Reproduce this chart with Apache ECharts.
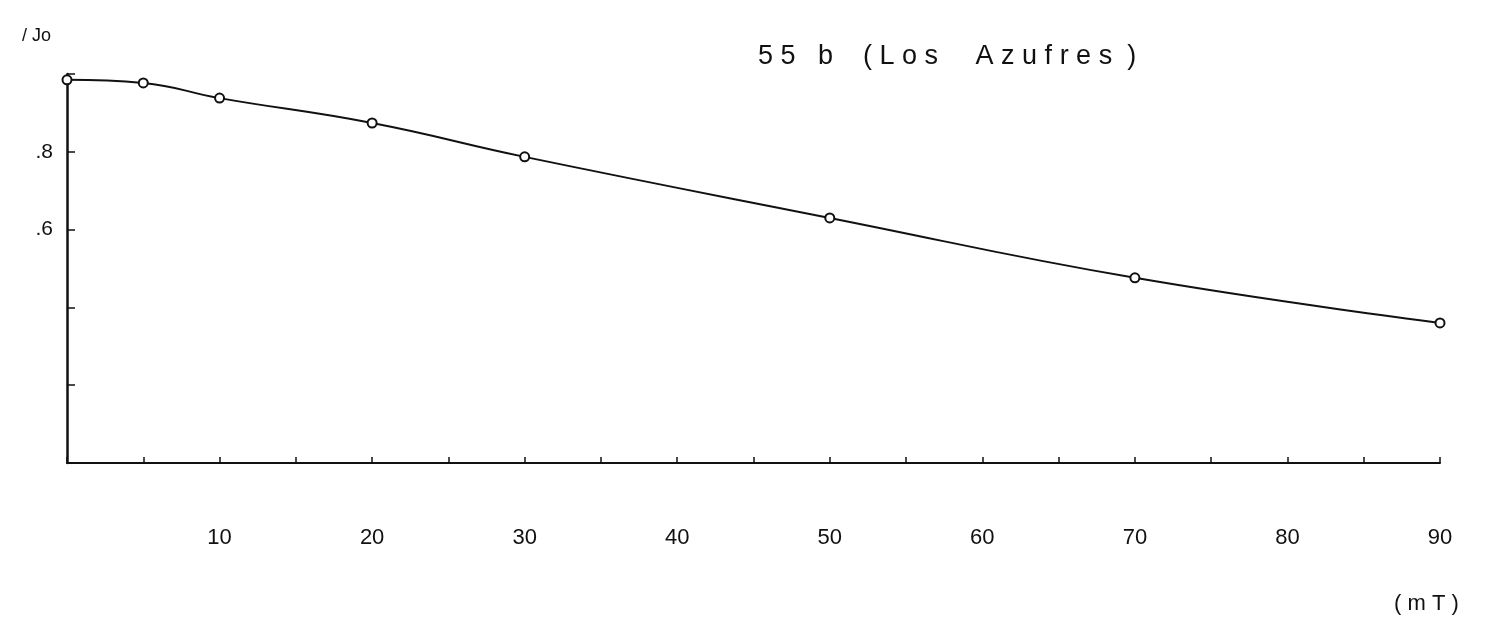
<!DOCTYPE html>
<html>
<head>
<meta charset="utf-8">
<title>55 b (Los Azufres)</title>
<script src="https://cdn.jsdelivr.net/npm/echarts@6/dist/echarts.min.js"></script>
<style>
  html, body { margin: 0; padding: 0; background: #fff; }
  #chart { width: 1486px; height: 634px; }
</style>
</head>
<body>
<div id="chart"></div>
<script>
// demagnetisation field (mT) and remaining intensity J/Jo
const fieldValues = [0, 5, 10, 20, 30, 50, 70, 90];
const intensityValues = [0.985, 0.977, 0.938, 0.874, 0.787, 0.63, 0.476, 0.36];
const xTickLabels = [10, 20, 30, 40, 50, 60, 70, 80, 90];
const yTickLabels = { 0.8: '.8', 0.6: '.6' };

const chart = echarts.init(document.getElementById('chart'));
const font = 'Liberation Sans, Arial, sans-serif';

chart.setOption({
  animation: false,
  backgroundColor: '#ffffff',
  grid: { left: 67, right: 46, top: 74, bottom: 171 },
  title: {
    text: '5 5   b    ( L o s     A z u f r e s  )',
    left: 758,
    top: 43,
    padding: 0,
    textStyle: { fontFamily: font, fontSize: 27, fontWeight: 'normal', color: '#111' }
  },
  graphic: [
    {
      type: 'text',
      left: 22,
      top: 27,
      style: { text: '/ Jo', font: '18px ' + font, fill: '#111' }
    },
    {
      type: 'text',
      left: 1394,
      top: 593,
      style: { text: '( m T )', font: '22px ' + font, fill: '#111' }
    }
  ],
  xAxis: {
    type: 'value',
    min: 0,
    max: 90,
    interval: 5,
    axisLine: { lineStyle: { color: '#111', width: 2 } },
    axisTick: { inside: true, length: 6, lineStyle: { color: '#111', width: 1.5 } },
    splitLine: { show: false },
    axisLabel: {
      margin: 64,
      fontFamily: font,
      fontSize: 22,
      color: '#111',
      formatter: v => (xTickLabels.includes(v) ? String(v) : '')
    }
  },
  yAxis: {
    type: 'value',
    min: 0,
    max: 1,
    interval: 0.2,
    axisLine: { show: true, lineStyle: { color: '#111', width: 2.5 } },
    axisTick: { show: true, inside: true, length: 8, lineStyle: { color: '#111', width: 1.5 } },
    splitLine: { show: false },
    axisLabel: {
      margin: 14,
      fontFamily: font,
      fontSize: 21,
      color: '#111',
      formatter: v => yTickLabels[Math.round(v * 10) / 10] || ''
    }
  },
  series: [
    {
      type: 'line',
      data: fieldValues.map((f, i) => [f, intensityValues[i]]),
      smooth: 0.45,
      symbol: 'circle',
      symbolSize: 9,
      itemStyle: { color: '#fff', borderColor: '#111', borderWidth: 2 },
      lineStyle: { color: '#111', width: 2 }
    }
  ]
});
</script>
</body>
</html>
